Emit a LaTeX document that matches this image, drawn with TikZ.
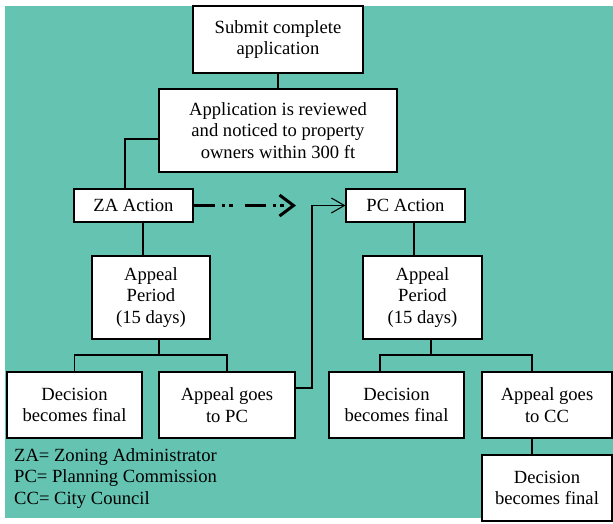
\documentclass[tikz,border=0pt]{standalone}
\usepackage{fontspec}
\setmainfont{Liberation Serif}
\usetikzlibrary{arrows.meta}
\definecolor{bgteal}{RGB}{100,196,177}
\tikzset{
  box/.style={draw=black, fill=white, line width=1.1pt, align=center, inner sep=0pt,
    font=\fontsize{18.6}{21.5}\selectfont},
  conn/.style={draw=black, line width=1.1pt},
  legend/.style={align=left, inner sep=0pt, font=\fontsize{18.6}{21.5}\selectfont},
}
\begin{document}
\begin{tikzpicture}[x=1pt,y=-1pt]
\useasboundingbox (0,0) rectangle (613,523);
\fill[bgteal] (5,6) rectangle (613,518);

\node[box, minimum width=170pt, minimum height=67pt] (submit) at (278,39.5) {Submit complete\\application};
\node[box, minimum width=238pt, minimum height=83pt] (review) at (278,130.5) {Application is reviewed\\and noticed to property\\owners within 300 ft};
\node[box, minimum width=119pt, minimum height=33pt] (za) at (133.5,205.5) {ZA Action};
\node[box, minimum width=118pt, minimum height=83pt] (apza) at (151,297.5) {Appeal\\Period\\(15 days)};
\node[box, minimum width=135pt, minimum height=66pt] (dec1) at (74.5,405) {Decision\\becomes final};
\node[box, minimum width=136pt, minimum height=66pt] (appc) at (227,405) {Appeal goes\\to PC};
\node[box, minimum width=119pt, minimum height=33pt] (pc) at (405.5,205.5) {PC Action};
\node[box, minimum width=119pt, minimum height=83pt] (appc2) at (422.5,297.5) {Appeal\\Period\\(15 days)};
\node[box, minimum width=135pt, minimum height=66pt] (dec2) at (396.5,405) {Decision\\becomes final};
\node[box, minimum width=130pt, minimum height=66pt] (apcc) at (547,405) {Appeal goes\\to CC};
\node[box, minimum width=130pt, minimum height=66pt] (dec3) at (547,488) {Decision\\becomes final};

\node[legend, anchor=west] (leg) at (14,478.5) {ZA= Zoning Administrator\\PC= Planning Commission\\CC= City Council};

\coordinate (j1) at (159,355);
\coordinate (j2) at (431,355);
\coordinate (k) at (312,300);
\coordinate (tip) at (296,205.5);

\draw[conn] (submit.south) -- (review.north);
\draw[conn] ([yshift=-8.5pt]review.west) -| ([xshift=-8.5pt]za.north);
\draw[conn] ([xshift=9.5pt]za.south) -- ([xshift=9.5pt]za.south |- apza.north);
\draw[conn] (apza.south -| j1) -- (j1);
\draw[conn] (dec1.north) |- (j1) -| (appc.north);
\draw[conn, -{Straight Barb[length=13pt,width=15pt]}] ([yshift=17pt]appc.east) -| (k |- pc.west) -- (pc.west);
\draw[conn, line width=3pt, dash pattern=on 21pt off 7pt on 3.5pt off 4pt on 3.5pt off 12pt,
  -{Straight Barb[length=14pt,width=21pt]}] (za.east) -- (tip);
\draw[conn] ([xshift=8.5pt]pc.south) -- ([xshift=8.5pt]pc.south |- appc2.north);
\draw[conn] (appc2.south -| j2) -- (j2);
\draw[conn] ([xshift=-16.5pt]dec2.north) |- (j2) -| ([xshift=-15pt]apcc.north);
\draw[conn] ([xshift=-15pt]apcc.south) -- ([xshift=-15pt]dec3.north);
\end{tikzpicture}
\end{document}
